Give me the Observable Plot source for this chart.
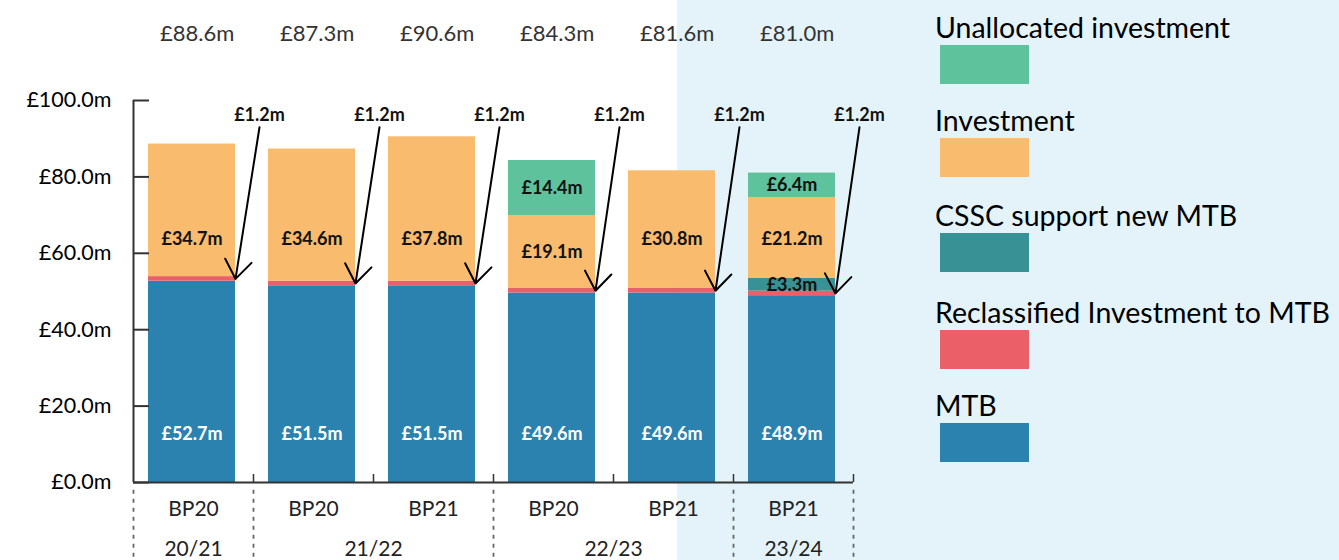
<!DOCTYPE html>
<html>
<head>
<meta charset="utf-8">
<script src="https://cdn.jsdelivr.net/npm/d3@7"></script>
<script src="https://cdn.jsdelivr.net/npm/@observablehq/plot@0.6"></script>
<style>
  html, body { margin: 0; padding: 0; }
  #wrap {
    position: relative; width: 1339px; height: 560px; overflow: hidden;
    background: linear-gradient(to right, #ffffff 677px, #e4f3fa 677px);
    font-family: Lato, "Open Sans", sans-serif;
  }
  #chart { position: absolute; left: 0; top: 0; }
  #legend { position: absolute; left: 935px; top: 0; }
  .lg-item { position: absolute; left: 0; white-space: nowrap; }
  .lg-text { font-size: 28.5px; color: #000; line-height: 30px; }
  .lg-swatch { width: 89px; height: 39px; margin-left: 5px; margin-top: 3px; }
</style>
</head>
<body>
<div id="wrap">
  <div id="chart"></div>
  <div id="legend"></div>
</div>
<script>
// ---- data ----
const plans = ["BP20", "BP20", "BP21", "BP20", "BP21", "BP21"];
const years = ["20/21", "21/22", "21/22", "22/23", "22/23", "23/24"];
const seriesNames = ["MTB", "Reclassified Investment to MTB", "CSSC support new MTB", "Investment", "Unallocated investment"];
const seriesColors = ["#2c82ae", "#eb6068", "#389194", "#f9bb6d", "#5ec29d"];
const mtb = [52.7, 51.5, 51.5, 49.6, 49.6, 48.9];
const reclassified = [1.2, 1.2, 1.2, 1.2, 1.2, 1.2];
const cssc = [0, 0, 0, 0, 0, 3.3];
const investment = [34.7, 34.6, 37.8, 19.1, 30.8, 21.2];
const unallocated = [0, 0, 0, 14.4, 0, 6.4];
const totals = [88.6, 87.3, 90.6, 84.3, 81.6, 81.0];
const yTicks = [0, 20, 40, 60, 80, 100];
const legendOrder = ["Unallocated investment", "Investment", "CSSC support new MTB", "Reclassified Investment to MTB", "MTB"];

// ---- derived ----
const seriesValues = [mtb, reclassified, cssc, investment, unallocated];
const fmt = v => `£${v.toFixed(1)}m`;
const idx = plans.map((_, i) => i);
const barL = 0.125, barR = 0.85;

const segments = [];
idx.forEach(i => {
  let cum = 0;
  seriesNames.forEach((s, k) => {
    const v = seriesValues[k][i];
    if (v > 0) segments.push({i, series: s, v, y1: cum, y2: cum + v});
    cum += v;
  });
});

const segLabels = segments
  .filter(d => d.series !== "Reclassified Investment to MTB")
  .map(d => {
    const mid = (d.y1 + d.y2) / 2;
    let y = mid;
    if (d.series === "MTB") y = 12.6;
    if (d.series === "Investment") y = Math.min(mid, 63.6);
    return {...d, y, label: fmt(d.v), white: d.series === "MTB"};
  });

const reclassSegs = segments.filter(d => d.series === "Reclassified Investment to MTB");

// year groups
const groups = [];
years.forEach((y, i) => {
  const g = groups.find(g => g.year === y);
  if (g) g.end = i + 1; else groups.push({year: y, start: i, end: i + 1});
});
const separators = [0, ...groups.map(g => g.end)];

const axisColor = "#333";

const chart = Plot.plot({
  width: 900,
  height: 560,
  marginLeft: 133,
  marginRight: 47,
  marginTop: 100,
  marginBottom: 78,
  style: {background: "transparent", fontFamily: "Lato, 'Open Sans', sans-serif"},
  x: {domain: [0, 6], axis: null},
  y: {domain: [0, 100], axis: null},
  color: {domain: seriesNames, range: seriesColors},
  marks: [
    // bars
    Plot.rect(segments, {x1: d => d.i + barL, x2: d => d.i + barR, y1: "y1", y2: "y2", fill: "series"}),
    // axis lines
    Plot.ruleX([0], {y1: 0, y2: 100, stroke: axisColor, strokeWidth: 2}),
    Plot.ruleY([0], {x1: 0, x2: 6, stroke: axisColor, strokeWidth: 2}),
    Plot.ruleY(yTicks, {x1: 0, x2: 16 / 120, stroke: axisColor, strokeWidth: 2}),
    Plot.ruleX(idx.map(i => i + 1), {y1: 0, y2: 2.1, stroke: axisColor, strokeWidth: 1.5}),
    // y tick labels
    Plot.text(yTicks, {x: 0, y: d => d, text: d => fmt(d), textAnchor: "end", dx: -22, fontSize: 21.5, fill: "#000"}),
    // dashed separators below axis
    Plot.ruleX(separators, {y1: -2, y2: -21, stroke: "#666", strokeWidth: 1.8, strokeDasharray: "4,5"}),
    // plan labels and year labels
    Plot.text(idx, {x: i => i + 0.5, frameAnchor: "bottom", dy: 33, text: i => plans[i], fontSize: 21, fill: "#222"}),
    Plot.text(groups, {x: g => (g.start + g.end) / 2, frameAnchor: "bottom", dy: 73, text: "year", fontSize: 21, fill: "#222"}),
    // totals
    Plot.text(idx, {x: i => i + 0.53, frameAnchor: "top", dy: -75, text: i => fmt(totals[i]), fontSize: 22, fill: "#333"}),
    // segment labels
    Plot.text(segLabels, {x: d => d.i + (barL + barR) / 2, y: "y", text: "label", fontSize: 18, fontWeight: "bold",
      fill: d => d.white ? "white" : "#111"}),
    // reclassified annotations
    Plot.text(reclassSegs, {x: d => d.i + 1.05, frameAnchor: "top", dy: 8, text: d => fmt(d.v), fontSize: 18, fontWeight: "bold", fill: "#111"}),
    Plot.arrow(reclassSegs, {x1: d => d.i + 1.05, y1: 93, x2: d => d.i + barR, y2: d => (d.y1 + d.y2) / 2,
      stroke: "#000", strokeWidth: 2, headLength: 17, headAngle: 72})
  ]
});
document.getElementById("chart").appendChild(chart);

// legend
const legendTops = [12, 105, 200, 297, 390];
const legend = document.getElementById("legend");
legendOrder.forEach((name, k) => {
  const item = document.createElement("div");
  item.className = "lg-item";
  item.style.top = legendTops[k] + "px";
  const t = document.createElement("div");
  t.className = "lg-text";
  t.textContent = name;
  const s = document.createElement("div");
  s.className = "lg-swatch";
  s.style.background = seriesColors[seriesNames.indexOf(name)];
  item.appendChild(t);
  item.appendChild(s);
  legend.appendChild(item);
});
</script>
</body>
</html>
